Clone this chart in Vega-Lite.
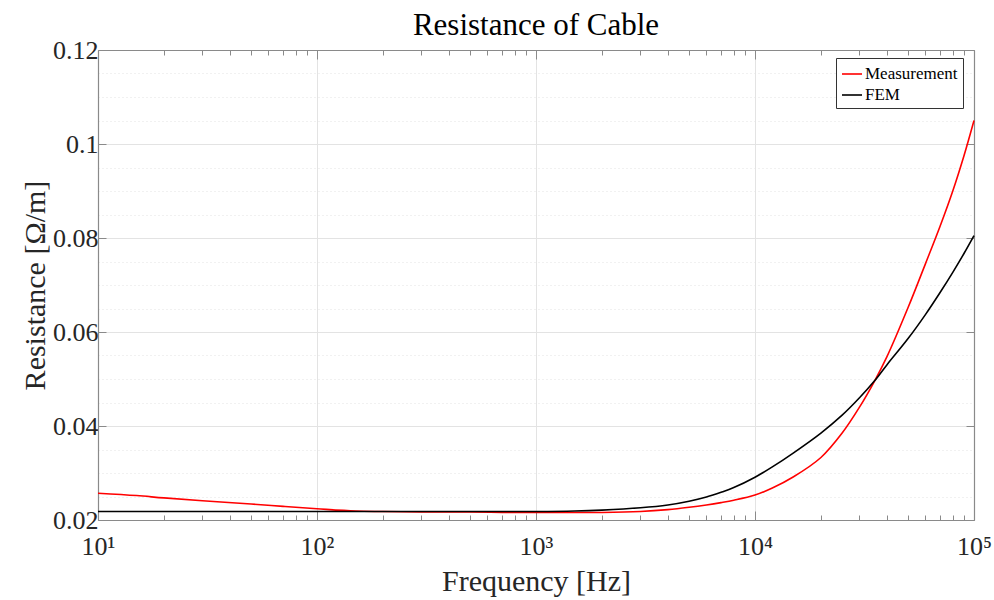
{
  "$schema": "https://vega.github.io/schema/vega-lite/v6.json",
  "width": 876,
  "height": 470,
  "autosize": {"type": "none"},
  "padding": {"left": 98, "top": 50, "right": 20, "bottom": 80},
  "background": "white",
  "title": {"text": "Resistance of Cable", "font": "Liberation Serif", "fontSize": 31, "fontWeight": "normal", "color": "#000000", "anchor": "middle", "baseline": "alphabetic", "offset": 16, "dy": 45},
  "config": {
    "view": {"stroke": null},
    "axis": {"labelFont": "Liberation Serif", "titleFont": "Liberation Serif", "labelColor": "#262626", "titleColor": "#262626", "domainColor": "#8a8a8a", "tickColor": "#8a8a8a", "titleFontWeight": "normal", "labelOverlap": false, "labelFlush": false}
  },
  "data": {"values": [
    {"f": 10, "r": 0.0257, "series": "Measurement"},
    {"f": 15, "r": 0.0252, "series": "Measurement"},
    {"f": 20, "r": 0.0247, "series": "Measurement"},
    {"f": 30, "r": 0.0241, "series": "Measurement"},
    {"f": 50, "r": 0.0234, "series": "Measurement"},
    {"f": 70, "r": 0.0229, "series": "Measurement"},
    {"f": 100, "r": 0.0224, "series": "Measurement"},
    {"f": 150, "r": 0.0219, "series": "Measurement"},
    {"f": 200, "r": 0.0218, "series": "Measurement"},
    {"f": 300, "r": 0.0217, "series": "Measurement"},
    {"f": 500, "r": 0.0217, "series": "Measurement"},
    {"f": 700, "r": 0.0216, "series": "Measurement"},
    {"f": 1000, "r": 0.0216, "series": "Measurement"},
    {"f": 1500, "r": 0.0216, "series": "Measurement"},
    {"f": 2000, "r": 0.0216, "series": "Measurement"},
    {"f": 3000, "r": 0.0218, "series": "Measurement"},
    {"f": 4000, "r": 0.0222, "series": "Measurement"},
    {"f": 5000, "r": 0.0227, "series": "Measurement"},
    {"f": 6000, "r": 0.0232, "series": "Measurement"},
    {"f": 7000, "r": 0.0237, "series": "Measurement"},
    {"f": 8000, "r": 0.0242, "series": "Measurement"},
    {"f": 10000, "r": 0.0253, "series": "Measurement"},
    {"f": 12000, "r": 0.0268, "series": "Measurement"},
    {"f": 15000, "r": 0.0292, "series": "Measurement"},
    {"f": 20000, "r": 0.0333, "series": "Measurement"},
    {"f": 25000, "r": 0.0385, "series": "Measurement"},
    {"f": 30000, "r": 0.0440, "series": "Measurement"},
    {"f": 35000, "r": 0.0494, "series": "Measurement"},
    {"f": 40000, "r": 0.0547, "series": "Measurement"},
    {"f": 50000, "r": 0.0652, "series": "Measurement"},
    {"f": 60000, "r": 0.0745, "series": "Measurement"},
    {"f": 70000, "r": 0.0825, "series": "Measurement"},
    {"f": 80000, "r": 0.0900, "series": "Measurement"},
    {"f": 90000, "r": 0.0975, "series": "Measurement"},
    {"f": 100000, "r": 0.1050, "series": "Measurement"},
    {"f": 10, "r": 0.0218, "series": "FEM"},
    {"f": 100, "r": 0.0218, "series": "FEM"},
    {"f": 500, "r": 0.0218, "series": "FEM"},
    {"f": 1000, "r": 0.0218, "series": "FEM"},
    {"f": 1500, "r": 0.0219, "series": "FEM"},
    {"f": 2000, "r": 0.0221, "series": "FEM"},
    {"f": 3000, "r": 0.0226, "series": "FEM"},
    {"f": 4000, "r": 0.0232, "series": "FEM"},
    {"f": 5000, "r": 0.0240, "series": "FEM"},
    {"f": 6000, "r": 0.0249, "series": "FEM"},
    {"f": 7000, "r": 0.0259, "series": "FEM"},
    {"f": 8000, "r": 0.0269, "series": "FEM"},
    {"f": 10000, "r": 0.0291, "series": "FEM"},
    {"f": 12000, "r": 0.0313, "series": "FEM"},
    {"f": 15000, "r": 0.0343, "series": "FEM"},
    {"f": 20000, "r": 0.0385, "series": "FEM"},
    {"f": 25000, "r": 0.0423, "series": "FEM"},
    {"f": 30000, "r": 0.0460, "series": "FEM"},
    {"f": 35000, "r": 0.0495, "series": "FEM"},
    {"f": 40000, "r": 0.0530, "series": "FEM"},
    {"f": 50000, "r": 0.0586, "series": "FEM"},
    {"f": 60000, "r": 0.0637, "series": "FEM"},
    {"f": 70000, "r": 0.0684, "series": "FEM"},
    {"f": 80000, "r": 0.0727, "series": "FEM"},
    {"f": 90000, "r": 0.0767, "series": "FEM"},
    {"f": 100000, "r": 0.0805, "series": "FEM"}
  ]},
  "layer": [
    {
      "transform": [{"filter": "datum.series == 'Measurement'"}],
      "mark": {"type": "line", "strokeWidth": 1.6, "interpolate": "catmull-rom"},
      "encoding": {
        "x": {"field": "f", "type": "quantitative",
          "scale": {"type": "log", "domain": [10, 100000], "nice": false},
          "axis": {"orient": "bottom", "title": "Frequency [Hz]", "titleFontSize": 30, "titleY": 70, "titleBaseline": "alphabetic",
            "values": [10,20,30,40,50,60,70,80,90,100,200,300,400,500,600,700,800,900,1000,2000,3000,4000,5000,6000,7000,8000,9000,10000,20000,30000,40000,50000,60000,70000,80000,90000,100000],
            "labelExpr": "datum.value == 10 ? '10¹' : datum.value == 100 ? '10²' : datum.value == 1000 ? '10³' : datum.value == 10000 ? '10⁴' : datum.value == 100000 ? '10⁵' : ''",
            "labelFontSize": 26, "labelBaseline": "alphabetic", "labelPadding": 43,
            "grid": true, "gridColor": "#e3e3e3", "gridWidth": 1,
            "gridOpacity": {"condition": {"test": "abs(log(datum.value)/LN10 - round(log(datum.value)/LN10)) < 0.000001", "value": 1}, "value": 0},
            "tickSize": {"condition": {"test": "abs(log(datum.value)/LN10 - round(log(datum.value)/LN10)) < 0.000001", "value": -9}, "value": -5},
            "domainWidth": 1.2}
        },
        "y": {"field": "r", "type": "quantitative",
          "scale": {"domain": [0.02, 0.12], "nice": false, "zero": false},
          "axis": {"orient": "left", "title": "Resistance [Ω/m]", "titleFontSize": 30, "titleX": -54, "titleY": 235, "titleBaseline": "alphabetic", "titleAngle": -90,
            "values": [0.02,0.025,0.03,0.035,0.04,0.045,0.05,0.055,0.06,0.065,0.07,0.075,0.08,0.085,0.09,0.095,0.1,0.105,0.11,0.115,0.12],
            "labelExpr": "abs(datum.value*50 - round(datum.value*50)) < 0.001 ? format(datum.value, '.2~f') : ''",
            "labelFontSize": 26, "labelPadding": 8,
            "grid": true, "gridColor": "#e3e3e3", "gridWidth": 1,
            "gridDash": {"condition": {"test": "abs(datum.value*50 - round(datum.value*50)) < 0.001", "value": []}, "value": [1, 3]},
            "tickSize": -8,
            "tickOpacity": {"condition": {"test": "abs(datum.value*50 - round(datum.value*50)) < 0.001", "value": 1}, "value": 0},
            "domainWidth": 1.2}
        },
        "color": {"field": "series", "type": "nominal",
          "scale": {"domain": ["Measurement", "FEM"], "range": ["#ff0000", "#000000"]},
          "legend": {"title": null, "orient": "none", "legendX": 738, "legendY": 8, "symbolType": "stroke", "symbolSize": 400, "symbolStrokeWidth": 1.6, "labelFont": "Liberation Serif", "labelFontSize": 17, "labelColor": "#000000", "strokeColor": "#333333", "fillColor": "white", "padding": 5, "rowPadding": 2, "labelOffset": 2}
        }
      }
    },
    {
      "transform": [{"filter": "datum.series == 'FEM'"}],
      "mark": {"type": "line", "strokeWidth": 1.6, "interpolate": "catmull-rom"},
      "encoding": {
        "x": {"field": "f", "type": "quantitative",
          "scale": {"type": "log", "domain": [10, 100000], "nice": false},
          "axis": {"orient": "top", "title": null, "labels": false, "grid": false,
            "values": [10,20,30,40,50,60,70,80,90,100,200,300,400,500,600,700,800,900,1000,2000,3000,4000,5000,6000,7000,8000,9000,10000,20000,30000,40000,50000,60000,70000,80000,90000,100000],
            "tickSize": {"condition": {"test": "abs(log(datum.value)/LN10 - round(log(datum.value)/LN10)) < 0.000001", "value": -9}, "value": -5},
            "domainWidth": 1.2}
        },
        "y": {"field": "r", "type": "quantitative",
          "scale": {"domain": [0.02, 0.12], "nice": false, "zero": false},
          "axis": {"orient": "right", "title": null, "labels": false, "grid": false,
            "values": [0.02,0.04,0.06,0.08,0.1,0.12],
            "tickSize": -8, "domainWidth": 1.2}
        },
        "color": {"field": "series", "type": "nominal",
          "scale": {"domain": ["Measurement", "FEM"], "range": ["#ff0000", "#000000"]}}
      }
    }
  ],
  "resolve": {"scale": {"x": "shared", "y": "shared", "color": "shared"}, "axis": {"x": "independent", "y": "independent"}}
}
